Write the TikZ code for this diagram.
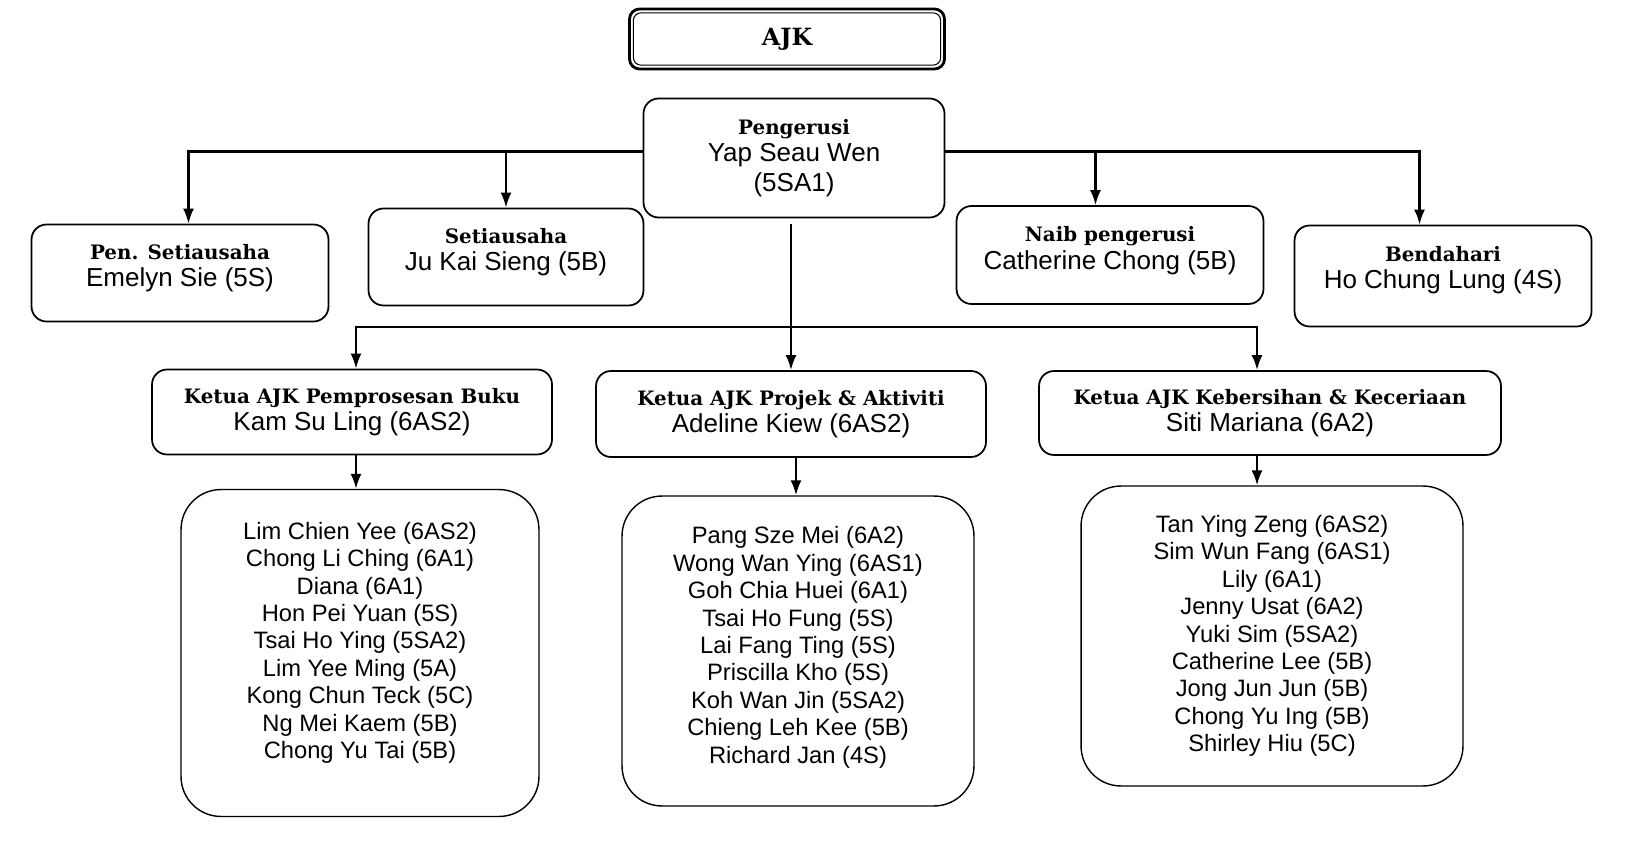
\documentclass[tikz,border=0pt]{standalone}
\usepackage{fontspec}
\setmainfont{Liberation Sans}
\newfontfamily\hdfont{DejaVu Serif}
\usetikzlibrary{arrows.meta}
\newcommand{\hd}[1]{{\hdfont\bfseries\fontsize{11.3}{13}\selectfont #1}}

\begin{document}
\begin{tikzpicture}
        [x=0.02cm, y=-0.02cm,
         box/.style={draw, line width=1pt, rounded corners=3mm, align=center, font=\fontsize{14.8}{17}\selectfont},
         list/.style={box, line width=0.8pt, rounded corners=8mm, font=\fontsize{13.5}{15.6}\selectfont},
         arr/.style={line width=1.3pt, -{Latex[length=3mm,width=2.2mm]}}]

        \useasboundingbox (0,0) rectangle (1628,844);

        \node [draw, line width=1.6pt, rounded corners=2mm, minimum width=6.3cm, minimum height=1.2cm] (ajk) at (787,39) {\hdfont\bfseries\fontsize{13.5}{15}\selectfont AJK};
        \draw [line width=0.6pt, rounded corners=1.5mm] ([shift={(3pt,-3pt)}]ajk.north west) rectangle ([shift={(-3pt,3pt)}]ajk.south east);

        \node [box, minimum width=6.02cm, minimum height=2.38cm] (pg) at (794,158) {\hd{Pengerusi}\\[-1.5pt] Yap Seau Wen\\ (5SA1)};

        \node [box, minimum width=5.94cm, minimum height=1.94cm, text depth=9pt]  (ps) at (180,273) {\hd{Pen. Setiausaha}\\[-1.5pt] Emelyn Sie (5S)};
        \node [box, minimum width=5.5cm,  minimum height=1.94cm, text depth=9pt]  (st) at (506,257) {\hd{Setiausaha}\\[-1.5pt] Ju Kai Sieng (5B)};
        \node [box, minimum width=6.14cm, minimum height=1.96cm, text depth=8pt]  (nb) at (1110,255) {\hd{Naib pengerusi}\\[-1.5pt] Catherine Chong (5B)};
        \node [box, minimum width=5.94cm, minimum height=2.02cm, text depth=10pt] (bd) at (1443,276) {\hd{Bendahari}\\[-1.5pt] Ho Chung Lung (4S)};

        \node [box, minimum width=8cm,    minimum height=1.7cm]  (k1) at (352,412) {\hd{Ketua AJK Pemprosesan Buku}\\[-1.5pt] Kam Su Ling (6AS2)};
        \node [box, minimum width=7.8cm,  minimum height=1.72cm] (k2) at (791,414) {\hd{Ketua AJK Projek \& Aktiviti}\\[-1.5pt] Adeline Kiew (6AS2)};
        \node [box, minimum width=9.24cm, minimum height=1.68cm] (k3) at (1270,413) {\hd{Ketua AJK Kebersihan \& Keceriaan}\\[-1.5pt] Siti Mariana (6A2)};

        \node [list, minimum width=7.16cm, minimum height=6.54cm, text depth=14.5pt] (l1) at (360,653) {Lim Chien Yee (6AS2)\\ Chong Li Ching (6A1)\\ Diana (6A1)\\ Hon Pei Yuan (5S)\\ Tsai Ho Ying (5SA2)\\ Lim Yee Ming (5A)\\ Kong Chun Teck (5C)\\ Ng Mei Kaem (5B)\\ Chong Yu Tai (5B)};
        \node [list, minimum width=7.04cm, minimum height=6.2cm, text depth=7pt]     (l2) at (798,651) {Pang Sze Mei (6A2)\\ Wong Wan Ying (6AS1)\\ Goh Chia Huei (6A1)\\ Tsai Ho Fung (5S)\\ Lai Fang Ting (5S)\\ Priscilla Kho (5S)\\ Koh Wan Jin (5SA2)\\ Chieng Leh Kee (5B)\\ Richard Jan (4S)};
        \node [list, minimum width=7.64cm, minimum height=6cm]    (l3) at (1272,636) {Tan Ying Zeng (6AS2)\\ Sim Wun Fang (6AS1)\\ Lily (6A1)\\ Jenny Usat (6A2)\\ Yuki Sim (5SA2)\\ Catherine Lee (5B)\\ Jong Jun Jun (5B)\\ Chong Yu Ing (5B)\\ Shirley Hiu (5C)};

        % branch points
        \coordinate (tl) at ([yshift=1.3mm]pg.west);
        \coordinate (tr) at ([yshift=1.3mm]pg.east);
        \coordinate (nbin) at ([xshift=-2.9mm]nb.north);
        \coordinate (k1in) at ([xshift=0.8mm]k1.north);
        \coordinate (k2in) at ([xshift=1mm]k2.north);
        \coordinate (k3in) at ([xshift=-2.6mm]k3.north);
        \coordinate (jn) at ([yshift=8.6mm]k2.north);

        \draw[arr] (tl) -| ([xshift=1.7mm]ps.north);
        \draw[arr] (tl -| st.north) -- (st.north);
        \draw[arr] (tr) -| ([xshift=-4.7mm]bd.north);
        \draw[arr] (nbin |- tr) -- (nbin);

        \draw[arr] (pg.south -| k2.north) ++(0,6) -- (k2.north);
        \draw[arr] (jn) -| (k1in);
        \draw[arr] (jn) -| (k3in);

        \draw[arr] (k1in |- k1.south) -- (k1in |- l1.north);
        \draw[arr] (k2in |- k2.south) -- (k2in |- l2.north);
        \draw[arr] (k3in |- k3.south) -- (k3in |- l3.north);
\end{tikzpicture}
\end{document}
